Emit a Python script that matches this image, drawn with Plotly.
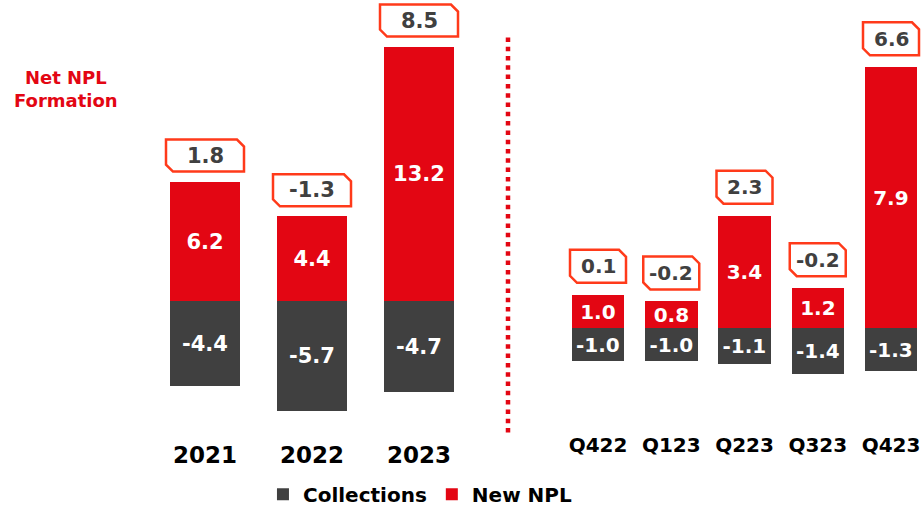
import plotly.graph_objects as go

# ---------------- data ----------------
years = ["2021", "2022", "2023"]
years_new_npl = [6.2, 4.4, 13.2]
years_collections = [-4.4, -5.7, -4.7]
years_net = [1.8, -1.3, 8.5]

quarters = ["Q422", "Q123", "Q223", "Q323", "Q423"]
q_new_npl = [1.0, 0.8, 3.4, 1.2, 7.9]
q_collections = [-1.0, -1.0, -1.1, -1.4, -1.3]
q_net = [0.1, -0.2, 2.3, -0.2, 6.6]

series_names = ["Collections", "New NPL"]
side_title = "Net NPL<br>Formation"

# ---------------- style ----------------
W, H = 923, 514
RED = "#E30613"
GRAY = "#404040"
BOX_LINE = "#FF3A1A"
FONT = "DejaVu Sans"


def fmt(v):
    return f"{v:.1f}"


fig = go.Figure()


def add_bars(cats, coll, new, xa, ya, width, fsize, show):
    fig.add_trace(go.Bar(
        x=cats, y=coll, name=series_names[0], marker_color=GRAY,
        width=width, xaxis=xa, yaxis=ya, legendgroup="c", showlegend=show,
        text=[fmt(v) for v in coll], texttemplate="%{text}",
        textposition="inside", insidetextanchor="middle", constraintext="none",
        textfont=dict(family=FONT, size=fsize, color="white", weight="bold"),
        marker_line_width=0, hoverinfo="skip"))
    fig.add_trace(go.Bar(
        x=cats, y=new, name=series_names[1], marker_color=RED,
        width=width, xaxis=xa, yaxis=ya, legendgroup="n", showlegend=show,
        text=[fmt(v) for v in new], texttemplate="%{text}",
        textposition="inside", insidetextanchor="middle", constraintext="none",
        textfont=dict(family=FONT, size=fsize, color="white", weight="bold"),
        marker_line_width=0, hoverinfo="skip"))


add_bars(years, years_collections, years_new_npl, "x", "y", 0.645, 21, True)
add_bars(quarters, q_collections, q_new_npl, "x2", "y2", 0.72, 20, False)


def callouts(cats, tops, nets, xref, yref, bw, bh, gap, cut, fsize):
    # category index positions (numeric) on the category axis
    for i, (t, n) in enumerate(zip(tops, nets)):
        L, R = -bw / 2, bw / 2
        B, T = gap, gap + bh
        path = (f"M{L},{B + cut} L{L},{T} L{R - cut},{T} L{R},{T - cut} "
                f"L{R},{B} L{L + cut},{B} Z")
        fig.add_shape(type="path", xref=xref, yref=yref,
                      xsizemode="pixel", ysizemode="pixel",
                      xanchor=i, yanchor=t, path=path,
                      line=dict(color=BOX_LINE, width=2.5),
                      fillcolor="white", layer="above")
        fig.add_annotation(x=i, y=t, xref=xref, yref=yref, text=fmt(n),
                           showarrow=False, yanchor="middle",
                           yshift=gap + bh / 2,
                           font=dict(family=FONT, size=fsize, color=GRAY,
                                     weight="bold"))


callouts(years, years_new_npl, years_net, "x", "y", 78, 32, 10, 7, 21)
callouts(quarters, q_new_npl, q_net, "x2", "y2", 56, 33, 12, 7, 20)

# separator
fig.add_shape(type="line", xref="paper", yref="paper",
              x0=508 / W, x1=508 / W, y0=1 - 38 / H, y1=1 - 444 / H,
              line=dict(color=RED, width=4.5, dash="4.5px,4.8px"))

fig.add_annotation(xref="paper", yref="paper", x=66 / W, y=1 - 90 / H,
                   text=side_title, showarrow=False, align="center",
                   xanchor="center", yanchor="middle",
                   font=dict(family=FONT, size=18, color=RED, weight="bold"))

# axes: annual px/unit with baseline; quarterly px/unit with baseline
ann_bottom, ann_base, ann_scale = 440, 306, 19.6
q_bottom, q_base, q_scale = 430, 333, 33.5

fig.update_layout(
    width=W, height=H, margin=dict(l=0, r=0, t=0, b=0),
    paper_bgcolor="white", plot_bgcolor="white",
    barmode="relative", bargap=0,
    showlegend=True,
    legend=dict(orientation="h", x=0.455, xanchor="center", y=1 - 502 / H,
                yanchor="middle", font=dict(family=FONT, size=20,
                                            color="black", weight="bold"),
                itemwidth=30, tracegroupgap=0, bgcolor="rgba(0,0,0,0)"),
    xaxis=dict(domain=[0, 0.55], type="category", anchor="y",
               range=[-205 / 107, -205 / 107 + 0.55 * W / 107],
               showgrid=False, showline=False, zeroline=False, ticks="",
               ticklabelstandoff=6,
               tickfont=dict(family=FONT, size=23, color="black",
                             weight="bold")),
    yaxis=dict(domain=[1 - ann_bottom / H, 1], anchor="x",
               range=[-(ann_bottom - ann_base) / ann_scale, ann_base / ann_scale],
               visible=False),
    xaxis2=dict(domain=[0.56, 1], type="category", anchor="y2",
                range=[-(598 - 0.56 * W) / 73.25,
                       -(598 - 0.56 * W) / 73.25 + 0.44 * W / 73.25],
                showgrid=False, showline=False, zeroline=False, ticks="",
                ticklabelstandoff=8,
                tickfont=dict(family=FONT, size=20, color="black",
                              weight="bold")),
    yaxis2=dict(domain=[1 - q_bottom / H, 1], anchor="x2",
                range=[-(q_bottom - q_base) / q_scale, q_base / q_scale],
                visible=False),
)

fig.write_html("out.html", config={"displayModeBar": False},
               post_script="document.body.style.margin='0px';"
                           "document.body.style.overflow='hidden';")
